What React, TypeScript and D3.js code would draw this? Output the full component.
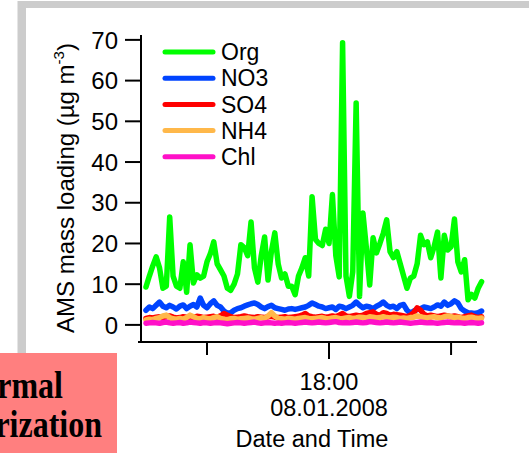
import { useEffect, useRef } from 'react'
import * as d3 from 'd3'

// AMS time series, 20 min steps starting 08.01.2008 00:00
const startTime = new Date(2008, 0, 8, 0, 0)
const stepMinutes = 20

const org = [
  9.3, 12, 14.5, 16.7, 14, 9, 9.5, 26.5, 12, 9.5,
  9, 15.5, 8, 19.7, 10.3, 12.3, 11.5, 12, 15.5, 17.5,
  20.4, 15, 13.5, 12, 9, 8.5, 10, 12.5, 19.7, 19,
  17, 25.3, 14, 10.5, 17, 21.6, 11, 18, 22.6, 15,
  11.5, 12.5, 9.5, 9.5, 7.4, 12, 14, 16.5, 12, 31.5,
  21, 20, 19.5, 23.5, 20, 32, 17, 11.8, 69.3, 12,
  7, 13, 54.5, 7, 27.5, 19, 9.8, 21.4, 17.7, 20,
  22.5, 25.8, 18, 16.5, 18, 15, 12, 9, 11.5, 12,
  15, 22, 19.7, 20.4, 16.5, 19.2, 22.8, 11.5, 22, 18.4,
  19.2, 26, 15.5, 13, 16, 6.2, 7.5, 6.6, 9, 10.6
]

const no3 = [
  3.6, 4.4, 4.0, 4.8, 5.6, 4.6, 4.2, 4.8, 4.4, 3.9,
  4.6, 4.9, 4.0, 4.6, 5.0, 4.4, 6.6, 4.8, 4.2, 5.2,
  5.9, 4.8, 4.4, 3.4, 2.9, 3.0, 3.6, 4.0, 4.2, 4.6,
  4.9, 5.2, 5.4, 5.0, 4.4, 4.0, 4.5, 4.8, 4.2, 4.0,
  3.8, 3.6, 3.9, 4.0, 3.8, 4.0, 4.2, 4.4, 4.8, 5.4,
  5.0, 4.6, 4.4, 4.0, 4.2, 4.4, 3.8, 4.6, 4.4, 4.0,
  4.4, 4.8, 5.6, 4.8, 4.2, 4.6, 4.4, 4.0, 4.6, 5.0,
  5.6, 4.8, 4.4, 4.6, 4.0, 4.8, 5.0, 3.6, 2.9, 3.4,
  3.8, 4.0, 4.4, 4.2, 4.0, 4.4, 4.9, 4.6, 5.6, 4.8,
  5.2, 5.9, 5.4, 4.0, 3.4, 3.0, 2.9, 2.8, 3.0, 3.4
]

const so4 = [
  1.6, 1.8, 1.7, 1.9, 2.0, 1.8, 2.0, 2.2, 1.9, 1.7,
  1.8, 2.0, 1.9, 1.7, 1.9, 2.1, 2.0, 1.8, 1.9, 2.0,
  2.1, 1.9, 2.2, 2.8, 2.4, 2.0, 1.8, 1.9, 2.0, 2.2,
  2.0, 1.9, 1.8, 2.0, 1.9, 1.8, 2.0, 2.1, 1.9, 1.8,
  1.9, 2.0, 1.8, 1.9, 2.0, 2.1, 2.4, 2.8, 2.2, 2.0,
  1.9, 2.0, 2.1, 1.9, 2.0, 2.2, 2.0, 2.4, 2.8, 2.2,
  2.0, 2.2, 2.4, 2.2, 2.4, 2.8, 3.0, 3.2, 2.6, 2.4,
  3.0, 2.8, 2.4, 2.6, 2.5, 2.4, 2.2, 2.0, 2.4, 3.0,
  4.2, 3.6, 2.6, 2.2, 2.4, 2.2, 2.0, 2.2, 2.4, 2.2,
  2.0, 2.2, 2.0, 1.8, 2.0, 2.2, 2.4, 2.0, 1.8, 2.0
]

const nh4 = [
  1.2, 1.4, 1.3, 1.6, 1.8, 2.2, 2.4, 1.8, 1.5, 1.4,
  1.6, 1.4, 1.8, 2.4, 2.0, 1.6, 1.5, 1.8, 1.6, 1.5,
  1.8, 2.0, 1.6, 1.4, 1.3, 1.5, 1.6, 1.4, 1.5, 1.6,
  1.7, 1.5, 1.4, 1.6, 1.8, 1.6, 2.2, 3.0, 2.2, 1.6,
  1.5, 1.4, 1.6, 1.5, 1.4, 1.6, 1.7, 1.8, 1.6, 1.5,
  1.6, 1.7, 1.8, 1.6, 1.5, 1.7, 1.8, 1.6, 1.5, 1.7,
  1.8, 1.6, 1.7, 1.9, 1.8, 1.7, 2.0, 1.9, 1.7, 1.8,
  2.0, 1.8, 1.7, 1.9, 1.8, 1.6, 1.7, 1.6, 1.8, 1.9,
  2.2, 2.0, 1.8, 1.7, 1.9, 2.0, 1.8, 1.7, 2.0, 2.2,
  2.0, 1.8, 1.9, 1.7, 1.6, 1.8, 1.9, 1.7, 1.6, 1.7
]

const chl = [
  0.4, 0.5, 0.6, 0.5, 0.4, 0.6, 0.7, 0.5, 0.4, 0.5,
  0.6, 0.4, 0.5, 0.7, 0.6, 0.5, 0.4, 0.6, 0.5, 0.4,
  0.5, 0.6, 0.5, 0.4, 0.3, 0.4, 0.5, 0.6, 0.5, 0.4,
  0.5, 0.6, 0.7, 0.5, 0.4, 0.5, 0.6, 0.5, 0.4, 0.5,
  0.4, 0.5, 0.6, 0.5, 0.4, 0.5, 0.6, 0.7, 0.6, 0.5,
  0.6, 0.7, 0.6, 0.5, 0.6, 0.7, 0.8, 0.6, 0.5, 0.6,
  0.5, 0.6, 0.7, 0.6, 0.5, 0.6, 0.8, 0.7, 0.6, 0.5,
  0.6, 0.7, 0.6, 0.5, 0.6, 0.7, 0.6, 0.5, 0.4, 0.5,
  0.6, 0.7, 0.6, 0.5, 0.6, 0.5, 0.4, 0.5, 0.6, 0.7,
  0.6, 0.5, 0.6, 0.5, 0.4, 0.5, 0.6, 0.5, 0.4, 0.5
]

const seriesNames = ['Org', 'NO3', 'SO4', 'NH4', 'Chl']
const seriesValues = [org, no3, so4, nh4, chl]
const seriesColors = ['#00ff00', '#0044ff', '#ff0000', '#ffb84a', '#ff10c8']

const yTicks = [0, 10, 20, 30, 40, 50, 60, 70]
// x ticks every 12 h; only 18:00 carries a label
const xTickTimes = [new Date(2008, 0, 8, 6), new Date(2008, 0, 8, 18), new Date(2008, 0, 9, 6)]
const xLabelTime = new Date(2008, 0, 8, 18)

const font = '"Liberation Sans", Arial, sans-serif'
const serif = '"Liberation Serif", "Times New Roman", serif'

export default function App() {
  const svgRef = useRef<SVGSVGElement>(null)

  useEffect(() => {
    if (!svgRef.current) return
    const svg = d3.select(svgRef.current)
    svg.selectAll('*').remove()

    // frame around the slide
    svg.append('rect').attr('x', 17.5).attr('y', 1).attr('width', 600).attr('height', 500)
      .attr('fill', '#cccccc')
    svg.append('rect').attr('x', 26).attr('y', 8).attr('width', 600).attr('height', 500)
      .attr('fill', '#ffffff')

    const xScale = d3.scaleTime()
      .domain([new Date(2008, 0, 7, 23, 13), new Date(2008, 0, 9, 8, 33)])
      .range([138, 477])

    const yScale = d3.scaleLinear()
      .domain([-4.2, 71.2])
      .range([342, 35])

    const timeAt = (i: number) => new Date(startTime.getTime() + i * stepMinutes * 60000)

    const line = d3.line<number>()
      .x((_, i) => xScale(timeAt(i)))
      .y(d => yScale(d))

    seriesValues.forEach((vals, k) => {
      svg.append('path')
        .datum(vals)
        .attr('fill', 'none')
        .attr('stroke', seriesColors[k])
        .attr('stroke-width', 5.5)
        .attr('stroke-linejoin', 'round')
        .attr('stroke-linecap', 'round')
        .attr('d', line)
    })

    // axes
    const axisY = yScale(-4.2)
    const axisX = 141
    svg.append('line')
      .attr('x1', axisX).attr('x2', axisX)
      .attr('y1', yScale(71.2)).attr('y2', axisY)
      .attr('stroke', '#000').attr('stroke-width', 2)
    svg.append('line')
      .attr('x1', xScale.range()[0]).attr('x2', xScale.range()[1])
      .attr('y1', axisY).attr('y2', axisY)
      .attr('stroke', '#000').attr('stroke-width', 2)

    svg.selectAll('.ytick')
      .data(yTicks)
      .enter().append('line')
      .attr('x1', axisX - 16).attr('x2', axisX)
      .attr('y1', d => yScale(d)).attr('y2', d => yScale(d))
      .attr('stroke', '#000').attr('stroke-width', 2)

    svg.selectAll('.ylabel')
      .data(yTicks)
      .enter().append('text')
      .attr('x', 118)
      .attr('y', d => yScale(d))
      .attr('dy', '0.36em')
      .attr('text-anchor', 'end')
      .style('font-family', font)
      .style('font-size', '24px')
      .text(d => d)

    svg.selectAll('.xtick')
      .data(xTickTimes)
      .enter().append('line')
      .attr('x1', d => xScale(d)).attr('x2', d => xScale(d))
      .attr('y1', axisY)
      .attr('y2', d => axisY + (+d === +xLabelTime ? 17 : 13))
      .attr('stroke', '#000').attr('stroke-width', 2)

    svg.append('text')
      .attr('x', xScale(xLabelTime)).attr('y', 390)
      .attr('text-anchor', 'middle')
      .style('font-family', font).style('font-size', '23.5px')
      .text(d3.timeFormat('%H:%M')(xLabelTime))
    svg.append('text')
      .attr('x', xScale(xLabelTime)).attr('y', 416)
      .attr('text-anchor', 'middle')
      .style('font-family', font).style('font-size', '23.5px')
      .text(d3.timeFormat('%d.%m.%Y')(xLabelTime))

    svg.append('text')
      .attr('x', 312).attr('y', 447)
      .attr('text-anchor', 'middle')
      .style('font-family', font).style('font-size', '23.5px')
      .text('Date and Time')

    const yl = svg.append('text')
      .attr('transform', 'translate(74,188) rotate(-90)')
      .attr('text-anchor', 'middle')
      .style('font-family', font).style('font-size', '24px')
    yl.append('tspan').text('AMS mass loading (µg m')
    yl.append('tspan').attr('dy', -10).style('font-size', '15px').text('-3')
    yl.append('tspan').attr('dy', 10).text(')')

    // legend
    seriesNames.forEach((name, k) => {
      const ly = 52 + k * 26.2
      svg.append('line')
        .attr('x1', 165).attr('x2', 213)
        .attr('y1', ly).attr('y2', ly)
        .attr('stroke', seriesColors[k]).attr('stroke-width', 5)
        .attr('stroke-linecap', 'round')
      svg.append('text')
        .attr('x', 221).attr('y', ly)
        .attr('dy', '0.36em')
        .style('font-family', font).style('font-size', '23px')
        .text(name)
    })

    // pink label box from the slide, cut off at the left edge
    const sy = 1.2
    svg.append('rect')
      .attr('x', 0).attr('y', 353).attr('width', 117).attr('height', 100)
      .attr('fill', '#ff7f7f')
    const box = svg.append('g').attr('transform', `scale(1,${sy})`)
    box.append('text')
      .attr('x', 63).attr('y', 398 / sy)
      .attr('text-anchor', 'end')
      .style('font-family', serif)
      .style('font-weight', 'bold').style('font-size', '32px')
      .text('Thermal')
    box.append('text')
      .attr('x', 102).attr('y', 437 / sy)
      .attr('text-anchor', 'end')
      .style('font-family', serif)
      .style('font-weight', 'bold').style('font-size', '32px')
      .text('Characterization')
  }, [])

  return (
    <svg ref={svgRef} width={529} height={453}
      style={{ position: 'absolute', left: 0, top: 0, background: '#fff' }} />
  )
}
